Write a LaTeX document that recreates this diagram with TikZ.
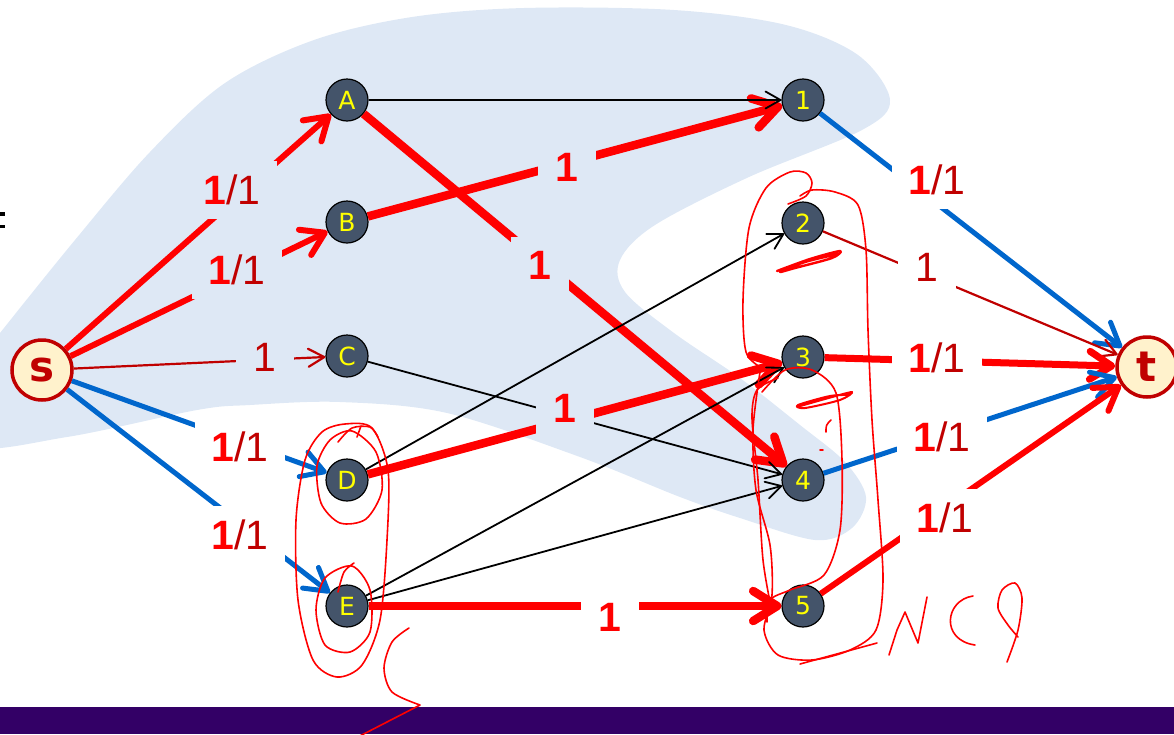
\documentclass[tikz,border=0pt]{standalone}
\usepackage{fontspec}
\setmainfont{Liberation Sans}
\newfontfamily\vtxfont{DejaVu Sans}
\usetikzlibrary{arrows.meta}
\definecolor{nodefill}{HTML}{44546A}
\definecolor{vyellow}{HTML}{FFFF00}
\definecolor{tfill}{HTML}{FFF2CC}
\definecolor{dred}{HTML}{C00000}
\definecolor{bred}{HTML}{FF0000}
\definecolor{eblue}{HTML}{0066CC}
\definecolor{blobc}{HTML}{DEE8F5}
\definecolor{barpurple}{HTML}{330066}
\newcommand{\oneone}{{\bfseries\color{bred}1}/1}
\newcommand{\boldone}{{\bfseries\color{bred}1}}
\begin{document}
\begin{tikzpicture}[x=1pt,y=-1pt,
  vtx/.style={circle, fill=nodefill, draw=black, line width=1.2pt, minimum size=42pt, inner sep=0pt, text=vyellow, font=\vtxfont\fontsize{25}{25}\selectfont},
  term/.style={circle, fill=tfill, draw=dred, line width=3.5pt, minimum size=60pt, inner sep=0pt, text=dred, font=\vtxfont\fontsize{42}{42}\selectfont\bfseries},
  lblA/.style={inner sep=0pt, minimum width=90pt, minimum height=58pt, text=dred, font=\fontsize{41}{41}\selectfont},
  lblB/.style={inner sep=0pt, minimum width=58pt, minimum height=56pt, text=dred, font=\fontsize{41}{41}\selectfont},
  onwhite/.style={fill=white},
  onblob/.style={fill=blobc},
  thickR/.style={draw=bred, line width=8.5pt, -{Straight Barb[round,length=24pt,width=30pt]}},
  medR/.style={draw=bred, line width=6pt, -{Straight Barb[round,length=22pt,width=28pt]}},
  blueE/.style={draw=eblue, line width=5pt, -{Straight Barb[round,length=22pt,width=26pt]}},
  thinR/.style={draw=dred, line width=2.2pt, -{Straight Barb[round,length=16pt,width=18pt]}},
  blk/.style={draw=black, line width=1.8pt, -{Straight Barb[round,length=15pt,width=17pt]}},
  ink/.style={draw=bred, line width=1.6pt, line cap=round, line join=round}
]
\useasboundingbox (0,0) rectangle (1174,734);
\clip (0,0) rectangle (1174,734);

% light blue highlight region
\fill[blobc] plot[smooth cycle, tension=0.55] coordinates {
 (-30,372) (0,333) (75,240) (150,152) (225,83) (314,40) (412,17) (524,8) (674,10)
 (786,25) (858,55) (890,100) (862,130) (749,177) (655,225) (620,260) (625,292)
 (674,333) (740,378) (800,425) (845,462) (866,497) (852,528) (815,540) (740,518)
 (680,497) (580,457) (447,413) (340,402) (250,405) (197,410) (67,437) (-30,445)};

% bottom bar
\fill[barpurple] (0,707) rectangle (1174,734);
% cut-off glyph at left edge
\fill[black] (0,212) rectangle (5,216);
\fill[black] (0,225) rectangle (5,228);

% nodes
\node[term] (s) at (42,370) {s};
\node[term] (t) at (1147,367) {t};
\node[vtx] (A) at (347,100) {A};
\node[vtx] (B) at (347,222) {B};
\node[vtx] (C) at (347,356) {C};
\node[vtx] (D) at (347,480) {D};
\node[vtx] (E) at (347,606) {E};
\node[vtx] (n1) at (803,100) {1};
\node[vtx] (n2) at (803,223) {2};
\node[vtx] (n3) at (803,357) {3};
\node[vtx] (n4) at (803,480) {4};
\node[vtx] (n5) at (803,606) {5};

% coloured edges
\draw[medR] (s) -- (A);
\draw[medR] (s) -- (B);
\draw[thinR] (s) -- (C);
\draw[blueE] (s) -- (D);
\draw[blueE] (s) -- (E);
\draw[thickR] (A) -- (n4);
\draw[thickR] (B) -- (n1);
\draw[thickR] (D) -- (n3);
\draw[thickR] (E) -- (n5);
\draw[blueE] (n1) -- (t);
\draw[thinR] (n2) -- (t);
\draw[medR, line width=7pt] (n3) -- (t);
\draw[blueE] (n4) -- (t);
\draw[medR] (n5) -- (t);
% black edges
\draw[blk] (A) -- (n1);
\draw[blk] (C) -- (n4);
\draw[blk] (D) -- (n2);
\draw[blk] (E) -- (n3);
\draw[blk] (E) -- (n4);

% labels
\node[lblA, onblob] (lsA) at (232,190) {\oneone};
\node[lblA, onblob] (lsB) at (237,270) {\oneone};
\node[lblB, onblob] (lsC) at (265,357) {1};
\node[lblA, onwhite] (lsD) at (240,447) {\oneone};
\node[lblA, onwhite] (lsE) at (240,535) {\oneone};
\node[lblB, onblob] (lA4) at (540,265) {\boldone};
\node[lblB, onblob] (lB1) at (567,167) {\boldone};
\node[lblB, onblob] (lD3) at (565,408) {\boldone};
\node[lblB, onwhite] (lE5) at (610,617) {\boldone};
\node[lblA, onwhite] (l1t) at (937,180) {\oneone};
\node[lblB, onwhite] (l2t) at (927,267) {1};
\node[lblA, onwhite] (l3t) at (937,358) {\oneone};
\node[lblA, onwhite] (l4t) at (942,437) {\oneone};
\node[lblA, onwhite] (l5t) at (945,518) {\oneone};

% handwritten ink: loops around D and E
\draw[ink] plot[smooth cycle] coordinates {(352,431)(376,452)(382,490)(366,519)(340,523)(321,503)(317,466)(330,440)};
\draw[ink] plot[smooth] coordinates {(338,442)(352,428)(370,427)(378,437)};
\draw[ink] (357,437) -- (361,426);
\draw[ink] plot[smooth cycle] coordinates {(352,566)(370,590)(370,632)(350,652)(325,645)(316,610)(325,578)};
\draw[ink] plot[smooth] coordinates {(338,592)(344,572)(354,563)};
\draw[ink] plot[smooth cycle] coordinates {(345,424)(372,428)(388,470)(387,540)(380,620)(362,665)(337,677)(313,660)(298,600)(296,520)(305,460)(322,432)};
% S stroke
\draw[ink] plot[smooth] coordinates {(409,628)(392,642)(384,668)(392,692)(420,705)} -- (352,740);

% loops around 2..5
\draw[ink] plot[smooth] coordinates {(788,204)(806,196)(812,183)(806,173)(790,172)(766,188)(749,228)(743,300)(746,352)(762,368)};
\draw[ink] plot[smooth] coordinates {(760,372)(753,430)(756,490)(770,545)(772,595)(764,630)(778,655)(812,660)(850,650)(876,630)(883,580)(878,500)(872,420)(868,330)(866,250)(858,205)(835,192)(812,190)(800,196)};
\draw[ink] plot[smooth] coordinates {(762,392)(785,370)(812,370)(836,393)(842,460)(840,530)(824,575)(790,590)(770,600)(767,622)};
\draw[ink] plot[smooth] coordinates {(772,612)(763,560)(758,480)(752,418)(757,390)(778,378)};
\draw[ink] (800,664) -- (877,643);
% scribbles
\draw[ink, line width=2.4pt] plot[smooth] coordinates {(777,271)(810,259)(840,251)(832,258)(795,268)(780,272)(805,262)(838,254)};
\draw[ink, line width=2pt] plot[smooth] coordinates {(797,407)(825,399)(852,392)(840,400)(805,408)(798,405)(830,396)(850,395)};
\draw[ink] (826,432) .. controls (826,425) .. (831,420);
\draw[ink] (820,450) -- (823,450);

% handwritten N(S)
\draw[ink] (889,655) -- (897,630) -- (905,612) -- (918,643) -- (927,597);
\draw[ink] (973,596) .. controls (945,600) and (940,640) .. (975,645);
\draw[ink] plot[smooth] coordinates {(1007,662)(1018,630)(1022,598)(1015,583)(1002,590)(998,608)(1008,625)(1018,637)};
\end{tikzpicture}
\end{document}
